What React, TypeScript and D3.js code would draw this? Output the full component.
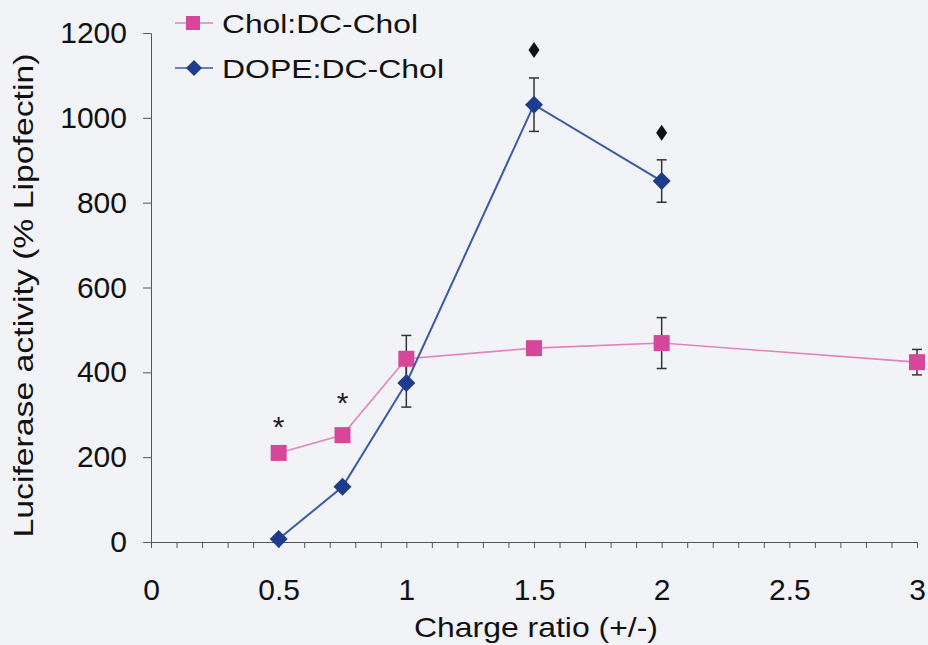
import React, { useEffect, useRef } from "react";
import * as d3 from "d3";

const W = 928;
const H = 645;
const MARGIN = { top: 33, right: 11, bottom: 103, left: 151 };

const ratios = [0.5, 0.75, 1, 1.5, 2, 3];
const cholValues = [210, 252, 432, 457, 469, 424];
const cholErrors = [0, 0, 55, 0, 60, 30];

const dopeRatios = [0.5, 0.75, 1, 1.5, 2];
const dopeValues = [7, 130, 375, 1031, 851];
const dopeErrors = [0, 0, 57, 63, 50];

// significance marks
const starMarks = [
  { x: 0.5, y: 280 },
  { x: 0.75, y: 337 },
];
const diamondMarks = [
  { x: 1.5, y: 1160 },
  { x: 2, y: 965 },
];

const xTicks = [0, 0.5, 1, 1.5, 2, 2.5, 3];
const yTicks = [0, 200, 400, 600, 800, 1000, 1200];

const PINK = "#d6479a";
const PINK_LINE = "#e283bb";
const BLUE = "#1f3b8c";
const BLUE_LINE = "#3c5ba3";
const FONT = "Liberation Sans, Arial, sans-serif";

export default function App() {
  const ref = useRef<SVGGElement>(null);
  const innerW = W - MARGIN.left - MARGIN.right;
  const innerH = H - MARGIN.top - MARGIN.bottom;

  useEffect(() => {
    const g = d3.select(ref.current);
    g.selectAll("*").remove();

    const x = d3.scaleLinear().domain([0, 3]).range([0, innerW]);
    const y = d3.scaleLinear().domain([0, 1200]).range([innerH, 0]);

    // Y axis
    const yAxis = g
      .append("g")
      .call(
        d3
          .axisLeft(y)
          .tickValues(yTicks)
          .tickSize(8)
          .tickSizeOuter(0)
          .tickPadding(16)
          .tickFormat(d3.format("d"))
      );
    yAxis.selectAll("path,line").attr("stroke", "#555").attr("stroke-width", 1);
    yAxis
      .selectAll("text")
      .attr("font-family", FONT)
      .attr("font-size", 30)
      .attr("fill", "#111");

    // X axis with minor ticks every 0.1
    const minor = d3.range(0, 31).map((i) => i / 10);
    const xMinor = g
      .append("g")
      .attr("transform", `translate(0,${innerH})`)
      .call(d3.axisBottom(x).tickValues(minor).tickSize(6).tickSizeOuter(0).tickFormat(() => ""));
    xMinor.selectAll("path,line").attr("stroke", "#555").attr("stroke-width", 1);
    const xAxis = g
      .append("g")
      .attr("transform", `translate(0,${innerH})`)
      .call(
        d3
          .axisBottom(x)
          .tickValues(xTicks)
          .tickSize(0)
          .tickPadding(37)
          .tickFormat((d) => d3.format("")(d as number))
      );
    xAxis.select("path").remove();
    xAxis
      .selectAll("text")
      .attr("font-family", FONT)
      .attr("font-size", 30)
      .attr("fill", "#111");

    // axis titles
    g.append("text")
      .attr("x", (x(0) + x(3)) / 2 + 2)
      .attr("y", innerH + 95)
      .attr("text-anchor", "middle")
      .attr("font-family", FONT)
      .attr("font-size", 28)
      .attr("fill", "#111")
      .attr("textLength", 244)
      .attr("lengthAdjust", "spacingAndGlyphs")
      .text("Charge ratio (+/-)");

    g.append("text")
      .attr("transform", `translate(${-MARGIN.left + 33},${innerH / 2 + 8}) rotate(-90)`)
      .attr("text-anchor", "middle")
      .attr("font-family", FONT)
      .attr("font-size", 28)
      .attr("fill", "#111")
      .attr("textLength", 484)
      .attr("lengthAdjust", "spacingAndGlyphs")
      .text("Luciferase activity (% Lipofectin)");

    // error bars
    const drawErrors = (xs: number[], vs: number[], es: number[]) => {
      xs.forEach((xv, i) => {
        if (!es[i]) return;
        const cx = x(xv);
        const y1 = y(vs[i] + es[i]);
        const y2 = y(vs[i] - es[i]);
        const eg = g.append("g").attr("stroke", "#333").attr("stroke-width", 1.5);
        eg.append("line").attr("x1", cx).attr("x2", cx).attr("y1", y1).attr("y2", y2);
        eg.append("line").attr("x1", cx - 5).attr("x2", cx + 5).attr("y1", y1).attr("y2", y1);
        eg.append("line").attr("x1", cx - 5).attr("x2", cx + 5).attr("y1", y2).attr("y2", y2);
      });
    };
    drawErrors(dopeRatios, dopeValues, dopeErrors);
    drawErrors(ratios, cholValues, cholErrors);

    const line = d3
      .line<[number, number]>()
      .x((d) => x(d[0]))
      .y((d) => y(d[1]));

    // Chol line + squares
    g.append("path")
      .datum(ratios.map((r, i) => [r, cholValues[i]] as [number, number]))
      .attr("d", line)
      .attr("fill", "none")
      .attr("stroke", PINK_LINE)
      .attr("stroke-width", 1.6);
    g.selectAll(".sq")
      .data(ratios)
      .join("rect")
      .attr("x", (d) => x(d) - 8)
      .attr("y", (d, i) => y(cholValues[i]) - 8)
      .attr("width", 16)
      .attr("height", 16)
      .attr("fill", PINK);

    // DOPE line + diamonds
    g.append("path")
      .datum(dopeRatios.map((r, i) => [r, dopeValues[i]] as [number, number]))
      .attr("d", line)
      .attr("fill", "none")
      .attr("stroke", BLUE_LINE)
      .attr("stroke-width", 2);
    const diamond = "M0,-9L9,0L0,9L-9,0Z";
    g.selectAll(".dm")
      .data(dopeRatios)
      .join("path")
      .attr("d", diamond)
      .attr("transform", (d, i) => `translate(${x(d)},${y(dopeValues[i])})`)
      .attr("fill", BLUE);

    // significance markers
    g.selectAll(".star")
      .data(starMarks)
      .join("text")
      .attr("x", (d) => x(d.x))
      .attr("y", (d) => y(d.y) + 14)
      .attr("text-anchor", "middle")
      .attr("font-family", FONT)
      .attr("font-size", 30)
      .attr("fill", "#222")
      .text("*");
    g.selectAll(".bd")
      .data(diamondMarks)
      .join("path")
      .attr("d", "M0,-8L5.5,0L0,8L-5.5,0Z")
      .attr("transform", (d) => `translate(${x(d.x)},${y(d.y)})`)
      .attr("fill", "#111");

    // legend
    const legend = g.append("g").attr("transform", `translate(${-MARGIN.left},${-MARGIN.top})`);
    const items = [
      { label: "Chol:DC-Chol", color: PINK, lineColor: PINK_LINE, shape: "square" },
      { label: "DOPE:DC-Chol", color: BLUE, lineColor: BLUE_LINE, shape: "diamond" },
    ];
    items.forEach((it, i) => {
      const cy = 23 + i * 45;
      legend
        .append("line")
        .attr("x1", 175)
        .attr("x2", 213)
        .attr("y1", cy)
        .attr("y2", cy)
        .attr("stroke", it.lineColor)
        .attr("stroke-width", 1.6);
      if (it.shape === "square") {
        legend.append("rect").attr("x", 186).attr("y", cy - 7).attr("width", 14).attr("height", 14).attr("fill", it.color);
      } else {
        legend.append("path").attr("d", "M0,-8L8,0L0,8L-8,0Z").attr("transform", `translate(194,${cy})`).attr("fill", it.color);
      }
      legend
        .append("text")
        .attr("x", 222)
        .attr("y", cy + 10)
        .attr("font-family", FONT)
        .attr("font-size", 26)
        .attr("fill", "#111")
        .attr("textLength", i === 0 ? 196 : 222)
        .attr("lengthAdjust", "spacingAndGlyphs")
        .text(it.label);
    });
  }, [innerW, innerH]);

  return (
    <div style={{ position: "fixed", left: 0, top: 0 }}>
      <svg width={W} height={H} style={{ display: "block" }}>
        <rect width={W} height={H} fill="#f2f3f7" />
        <g ref={ref} transform={`translate(${MARGIN.left},${MARGIN.top})`} />
      </svg>
    </div>
  );
}
